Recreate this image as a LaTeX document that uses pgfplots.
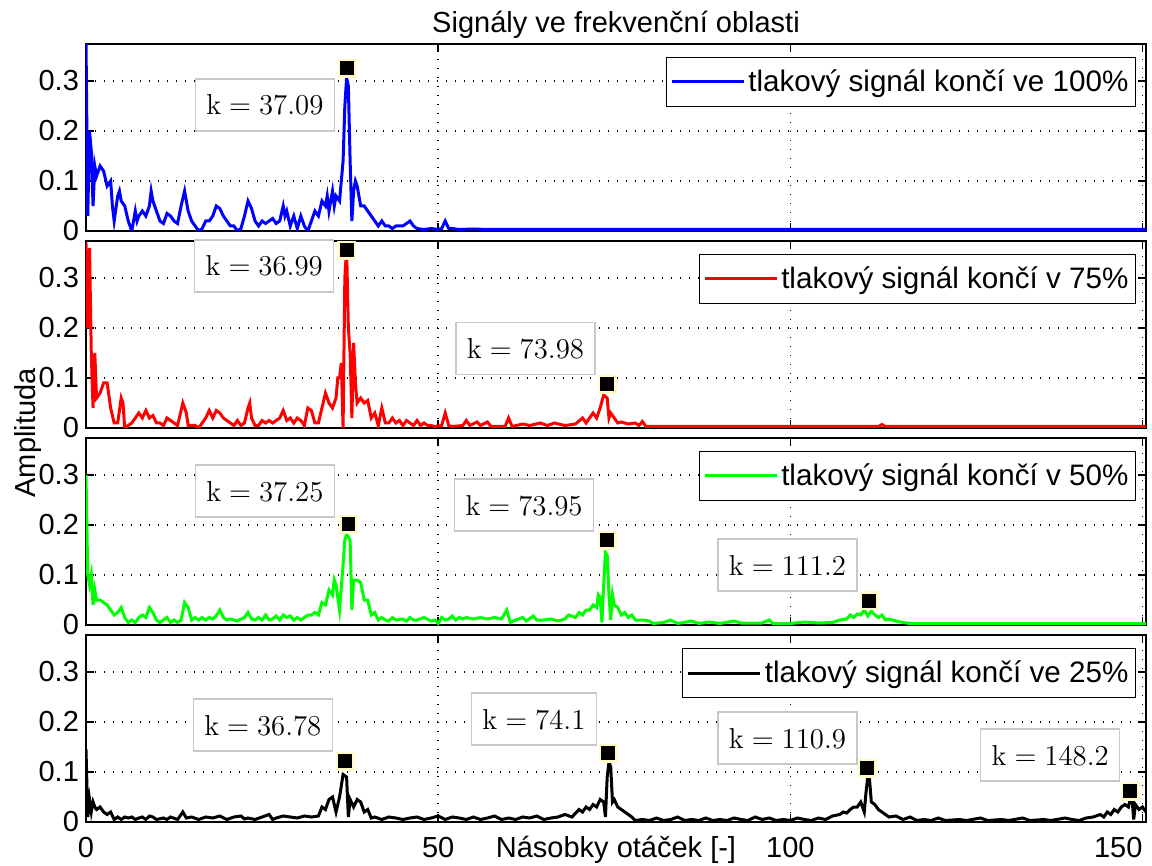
\documentclass[border=0pt]{standalone}
\usepackage[no-math]{fontspec}
\setmainfont{Liberation Sans}
\usepackage{pgfplots}
\pgfplotsset{compat=1.18}

\definecolor{tipyellow}{RGB}{255,250,200}
\definecolor{boxgray}{RGB}{200,200,200}
\newcommand{\fs}{\fontsize{14.5}{16.5}\selectfont}
\newcommand{\fl}{\fontsize{14.8}{17}\selectfont}
\newcommand{\fk}{\fontsize{14}{16}\selectfont}

\pgfplotsset{
  panel/.style={
    width=530pt, height=93.5pt, scale only axis,
    anchor=north west,
    xmin=0, xmax=150.5, ymin=0, ymax=0.374,
    xtick={0,50,100,150}, xticklabels={},
    ytick={0,0.1,0.2,0.3}, yticklabels={0,0.1,0.2,0.3},
    tick pos=both, tick align=inside, major tick length=4pt,
    xmajorgrids, ymajorgrids,
    grid style={black, line width=0.7pt, dash pattern=on 0.7pt off 3.8pt},
    axis line style={line width=0.9pt},
    every tick/.style={black, line width=0.7pt},
    tick label style={font=\fs},
    clip mode=individual,
    legend style={at={(1,1)}, anchor=north east, xshift=-5pt, yshift=-6.5pt,
      draw=black, line width=0.6pt, fill=white, font=\fl,
      inner xsep=2pt, inner ysep=4pt, nodes={inner xsep=1.5pt}},
    legend cell align=left,
    legend image code/.code={\draw[#1] (3pt,0pt) -- (39pt,0pt);},
  },
  sig/.style={line width=1.5pt},
  tipbg/.style={only marks, forget plot, mark=square*, mark size=4.5pt,
    mark options={fill=tipyellow, draw=tipyellow, line width=0.1pt}},
  tip/.style={only marks, forget plot, mark=square*, mark size=3.2pt,
    mark options={fill=black, draw=black}},
}
\tikzset{
  kbox/.style={draw=boxgray, fill=white, line width=0.6pt, font=\fk,
    inner xsep=5.5pt, minimum height=26pt},
}

\begin{document}
\begin{tikzpicture}

% 100 %
\begin{axis}[panel, at={(0pt,0pt)}]
\addplot[sig, blue] coordinates {
(0,0.38)(0.25,0.03)(0.5,0.20)(0.75,0.16)(1.0,0.05)(1.25,0.13)(1.5,0.11)(2.0,0.13)
(2.5,0.12)(3.0,0.09)(3.5,0.10)(3.75,0.05)(4.0,0.02)(4.5,0.07)(4.75,0.08)(5.0,0.06)
(5.5,0.05)(6.0,0.02)(6.5,0.0)(7.0,0.04)(7.25,0.02)(7.5,0.03)(8.0,0.04)(8.5,0.03)
(9.0,0.05)(9.25,0.08)(9.5,0.06)(10.0,0.04)(10.5,0.02)(11.0,0.015)(11.5,0.035)(12.0,0.03)
(12.5,0.02)(13.0,0.015)(13.5,0.05)(14.0,0.08)(14.5,0.04)(15.0,0.02)(15.5,0.01)(16.0,0.0)
(16.5,0.005)(17.0,0.02)(17.5,0.02)(18.0,0.03)(18.5,0.05)(19.0,0.045)(19.5,0.03)(20.0,0.02)
(20.5,0.01)(21.0,0.01)(21.5,0.0)(22.0,0.005)(22.5,0.03)(23.0,0.06)(23.5,0.045)(24.0,0.02)
(24.5,0.01)(25.0,0.02)(25.5,0.015)(26.0,0.02)(26.5,0.025)(27.0,0.015)(27.5,0.02)(28.0,0.05)
(28.25,0.03)(28.5,0.04)(29.0,0.01)(29.5,0.03)(30.0,0.005)(30.5,0.03)(31.0,0.01)(31.5,0.0)
(32.0,0.02)(32.5,0.04)(33.0,0.03)(33.5,0.06)(34.0,0.05)(34.25,0.07)(34.5,0.04)(35.0,0.08)
(35.25,0.05)(35.5,0.07)(36.0,0.06)(36.25,0.10)(36.5,0.14)(36.75,0.25)(37.0,0.306)(37.25,0.29)
(37.5,0.14)(37.75,0.02)(38.0,0.08)(38.25,0.10)(38.5,0.09)(39.0,0.05)(39.5,0.05)(40.0,0.04)
(40.5,0.03)(41.0,0.02)(41.5,0.01)(42.0,0.02)(42.5,0.01)(43.0,0.01)(43.5,0.005)(44.0,0.01)
(45.0,0.01)(46.0,0.02)(46.5,0.01)(47.0,0.005)(48.0,0.003)(49.0,0.005)(50.0,0.003)(50.5,0.005)
(51.0,0.02)(51.5,0.005)(52.0,0.005)(53,0.003)(55,0.004)(57,0.003)(60,0.003)(150.5,0.003)
};
\addlegendentry{tlakový signál končí ve 100\%}
\addplot[tipbg] coordinates {(37.09,0.326)};
\addplot[tip] coordinates {(37.09,0.326)};
\node[kbox] at (axis cs:25.4,0.252) {$\mathrm{k}=37.09$};
\end{axis}

% 75 %
\begin{axis}[panel, at={(0pt,-98.5pt)}]
\addplot[sig, red] coordinates {
(0,0.37)(0.25,0.2)(0.5,0.36)(0.75,0.15)(1.0,0.04)(1.25,0.15)(1.5,0.06)(2.0,0.07)
(2.5,0.09)(3.0,0.09)(3.5,0.04)(4.0,0.01)(4.5,0.01)(5.0,0.06)(5.25,0.05)(5.5,0.0)
(6.0,0.005)(6.5,0.01)(7.0,0.02)(7.5,0.03)(8.0,0.02)(8.5,0.035)(9.0,0.02)(9.5,0.025)
(10.0,0.01)(10.5,0.01)(11.0,0.005)(11.5,0.02)(12.0,0.015)(12.5,0.01)(13.0,0.005)(13.75,0.05)
(14.25,0.03)(14.5,0.005)(15.0,0.005)(15.5,0.005)(16.0,0.0)(16.5,0.01)(17.0,0.02)(17.5,0.035)
(18.0,0.02)(18.5,0.035)(19.0,0.03)(19.5,0.02)(20.0,0.015)(20.5,0.01)(21.0,0.005)(21.5,0.015)
(22.0,0.005)(22.5,0.01)(23.0,0.04)(23.25,0.05)(23.5,0.02)(24.0,0.005)(24.5,0.005)(25.0,0.015)
(25.5,0.01)(26.0,0.015)(26.5,0.01)(27.0,0.015)(27.5,0.02)(28.0,0.035)(28.5,0.015)(29.0,0.02)
(29.5,0.01)(30.0,0.02)(30.5,0.015)(31.0,0.005)(31.5,0.04)(32.0,0.035)(32.5,0.01)(33.0,0.01)
(33.5,0.04)(34.0,0.07)(34.5,0.05)(35.0,0.04)(35.5,0.06)(35.75,0.10)(36.0,0.10)(36.25,0.13)
(36.5,0.0)(36.75,0.30)(37.0,0.36)(37.25,0.20)(37.5,0.15)(37.75,0.02)(38.0,0.17)(38.25,0.09)
(38.5,0.05)(39.0,0.06)(39.5,0.05)(40.0,0.055)(40.5,0.02)(41.0,0.03)(41.5,0.005)(42.0,0.04)
(42.5,0.01)(43.0,0.01)(43.5,0.02)(44.0,0.01)(44.5,0.015)(45.0,0.005)(45.5,0.015)(46.0,0.01)
(46.5,0.005)(47.0,0.015)(47.5,0.005)(48.0,0.01)(48.5,0.005)(49.0,0.005)(49.5,0.003)(50.5,0.005)
(51.0,0.03)(51.5,0.005)(52.0,0.003)(53.5,0.005)(54.0,0.015)(54.5,0.005)(55.5,0.012)(56.0,0.005)
(57.0,0.012)(57.5,0.003)(59.5,0.003)(60.0,0.02)(60.5,0.003)(62.0,0.008)(63.0,0.005)(64.5,0.01)
(65.5,0.005)(66.5,0.01)(68.0,0.005)(69.5,0.008)(70.5,0.02)(71.0,0.01)(71.5,0.02)(72.0,0.03)
(72.5,0.02)(73.0,0.04)(73.5,0.066)(74.0,0.06)(74.25,0.02)(74.5,0.03)(75.0,0.02)(75.5,0.01)
(76.0,0.012)(77.0,0.008)(78.0,0.01)(78.5,0.005)(79.0,0.013)(79.5,0.003)(112.5,0.003)(113,0.007)
(113.5,0.003)(150.5,0.003)
};
\addlegendentry{tlakový signál končí v 75\%}
\addplot[tipbg] coordinates {(36.99,0.356)(73.98,0.088)};
\addplot[tip] coordinates {(36.99,0.356)(73.98,0.088)};
\node[kbox] at (axis cs:25.3,0.324) {$\mathrm{k}=36.99$};
\node[kbox] at (axis cs:62.4,0.159) {$\mathrm{k}=73.98$};
\end{axis}

% 50 %
\begin{axis}[panel, at={(0pt,-197pt)}]
\addplot[sig, green] coordinates {
(0,0.30)(0.25,0.10)(0.5,0.08)(0.75,0.10)(1.0,0.04)(1.25,0.07)(1.5,0.05)(2.0,0.05)
(2.5,0.045)(3.0,0.04)(3.5,0.03)(4.0,0.02)(4.5,0.025)(5.0,0.035)(5.5,0.015)(6.0,0.005)
(6.5,0.01)(7.0,0.005)(7.5,0.015)(8.0,0.02)(8.5,0.015)(9.0,0.035)(9.5,0.025)(10.0,0.01)
(10.5,0.005)(11.0,0.01)(11.5,0.015)(12.0,0.005)(12.5,0.01)(13.0,0.005)(13.5,0.01)(14.0,0.045)
(14.5,0.035)(15.0,0.01)(15.5,0.015)(16.0,0.01)(16.5,0.015)(17.0,0.01)(17.5,0.015)(18.0,0.012)
(18.5,0.018)(19.0,0.03)(19.5,0.015)(20.0,0.01)(20.5,0.012)(21.0,0.01)(21.5,0.008)(22.0,0.012)
(22.5,0.015)(23.0,0.025)(23.5,0.012)(24.0,0.01)(24.5,0.015)(25.0,0.01)(25.5,0.02)(26.0,0.01)
(26.5,0.012)(27.0,0.018)(27.5,0.01)(28.0,0.02)(28.5,0.015)(29.0,0.018)(29.5,0.01)(30.0,0.015)
(30.5,0.01)(31.0,0.015)(31.5,0.02)(32.0,0.02)(32.5,0.025)(33.0,0.02)(33.5,0.045)(34.0,0.04)
(34.5,0.07)(35.0,0.06)(35.25,0.09)(35.5,0.08)(36.0,0.03)(36.5,0.12)(36.75,0.17)(37.0,0.182)
(37.5,0.17)(37.75,0.03)(38.0,0.09)(38.5,0.09)(39.0,0.085)(39.5,0.05)(40.0,0.05)(40.5,0.02)
(41.0,0.025)(41.5,0.01)(42.0,0.015)(42.5,0.01)(43.0,0.008)(43.5,0.015)(44.0,0.01)(45.0,0.012)
(45.5,0.008)(46.0,0.015)(46.5,0.01)(47.0,0.01)(48.0,0.015)(49.0,0.008)(49.5,0.01)(50.0,0.003)
(50.5,0.015)(51.0,0.01)(51.5,0.012)(52.0,0.018)(52.5,0.01)(53.0,0.015)(53.5,0.012)(54.0,0.015)
(55.0,0.012)(56.0,0.015)(57.0,0.012)(58.0,0.015)(59.0,0.012)(59.75,0.03)(60.25,0.005)(61.0,0.01)
(62.0,0.015)(62.5,0.008)(63.5,0.018)(64.0,0.01)(65.0,0.01)(66.0,0.012)(67.0,0.008)(68.0,0.012)
(68.5,0.02)(69.5,0.015)(70.0,0.025)(70.5,0.02)(71.0,0.03)(71.5,0.03)(72.0,0.04)(72.5,0.035)
(72.75,0.06)(73.0,0.055)(73.25,0.005)(73.5,0.08)(73.75,0.145)(74.0,0.14)(74.25,0.06)(74.5,0.01)
(74.75,0.06)(75.0,0.04)(75.5,0.035)(76.0,0.02)(76.5,0.025)(77.0,0.015)(77.5,0.02)(78.0,0.01)
(79.0,0.01)(80.0,0.008)(80.5,0.003)(82.0,0.005)(83.0,0.01)(84.0,0.003)(86.0,0.008)(87.0,0.003)
(88.5,0.006)(90.0,0.003)(92.0,0.008)(93.0,0.004)(96.0,0.004)(97.0,0.01)(97.5,0.003)(100.0,0.003)
(102.0,0.006)(104.0,0.004)(106.0,0.005)(107.0,0.01)(108.0,0.012)(108.5,0.02)(109.0,0.015)(109.5,0.022)
(110.0,0.02)(110.5,0.03)(111.0,0.018)(111.5,0.028)(112.0,0.02)(112.5,0.015)(113.0,0.02)(113.5,0.01)
(114.0,0.012)(115.0,0.008)(116.0,0.005)(117.0,0.003)(150.5,0.003)
};
\addlegendentry{tlakový signál končí v 50\%}
\addplot[tipbg] coordinates {(37.25,0.202)(73.95,0.17)(111.2,0.049)};
\addplot[tip] coordinates {(37.25,0.202)(73.95,0.17)(111.2,0.049)};
\node[kbox] at (axis cs:25.4,0.268) {$\mathrm{k}=37.25$};
\node[kbox] at (axis cs:62.2,0.240) {$\mathrm{k}=73.95$};
\node[kbox] at (axis cs:99.6,0.120) {$\mathrm{k}=111.2$};
\end{axis}

% 25 %
\begin{axis}[panel, at={(0pt,-295.5pt)},
  xticklabels={0,50,100,\makebox[0pt][r]{150}},
  xticklabel style={anchor=base, yshift=-17.5pt},
  xlabel={Násobky otáček [-]},
  xlabel style={at={(axis description cs:0.5,0)}, anchor=base, yshift=-17.5pt, font=\fs}]
\addplot[sig, black] coordinates {
(0,0.145)(0.25,0.01)(0.5,0.045)(0.75,0.02)(1.0,0.04)(1.25,0.03)(1.5,0.025)(2.0,0.03)
(2.5,0.02)(3.0,0.015)(3.5,0.02)(4.0,0.005)(4.5,0.01)(5.0,0.005)(5.5,0.01)(6.0,0.008)
(6.5,0.01)(7.0,0.005)(7.5,0.008)(8.0,0.01)(8.5,0.005)(9.0,0.012)(9.5,0.01)(10.0,0.005)
(11.0,0.008)(11.5,0.005)(12.0,0.01)(13.0,0.005)(13.75,0.02)(14.25,0.008)(15.0,0.01)(16.0,0.005)
(17.0,0.01)(18.0,0.008)(19.0,0.012)(20.0,0.005)(21.0,0.01)(22.0,0.012)(22.5,0.006)(23.0,0.008)
(24.0,0.005)(25.0,0.01)(26.0,0.015)(26.5,0.005)(27.0,0.008)(28.0,0.012)(29.0,0.01)(30.0,0.008)
(31.0,0.012)(32.0,0.01)(33.0,0.012)(33.5,0.03)(34.0,0.025)(34.5,0.045)(35.0,0.05)(35.5,0.02)
(36.0,0.05)(36.5,0.095)(37.0,0.09)(37.25,0.01)(37.5,0.045)(38.0,0.03)(38.5,0.045)(39.0,0.04)
(39.5,0.02)(40.0,0.025)(40.5,0.008)(41.0,0.01)(42.0,0.005)(43.0,0.01)(44.0,0.008)(45.0,0.005)
(46.0,0.008)(47.0,0.01)(48.0,0.005)(49.0,0.008)(50.0,0.012)(51.0,0.005)(52.0,0.01)(53.0,0.008)
(54.0,0.005)(55.0,0.01)(56.0,0.005)(57.0,0.008)(58.0,0.012)(59.0,0.005)(60.0,0.008)(61.0,0.005)
(62.0,0.01)(63.0,0.008)(64.0,0.012)(65.0,0.005)(66.0,0.008)(67.0,0.01)(68.0,0.015)(69.0,0.01)
(70.0,0.025)(70.5,0.02)(71.0,0.03)(71.5,0.025)(72.0,0.035)(72.5,0.03)(73.0,0.045)(73.5,0.04)
(73.75,0.01)(74.0,0.09)(74.25,0.12)(74.5,0.11)(74.75,0.04)(75.0,0.045)(75.5,0.03)(76.0,0.025)
(76.5,0.02)(77.0,0.015)(77.5,0.01)(78.0,0.003)(79.0,0.005)(80.0,0.003)(81.0,0.008)(82.0,0.003)
(83.0,0.005)(84.0,0.01)(85.0,0.003)(86.0,0.005)(87.0,0.003)(88.0,0.008)(89.0,0.003)(90.0,0.005)
(91.0,0.003)(92.0,0.008)(93.0,0.005)(94.0,0.003)(95.0,0.01)(96.0,0.005)(97.0,0.008)(98.0,0.003)
(99.0,0.005)(100.0,0.003)(101.0,0.008)(102.0,0.005)(103.0,0.003)(104.0,0.008)(105.0,0.005)(106.0,0.012)
(107.0,0.015)(107.5,0.02)(108.0,0.018)(108.5,0.025)(109.0,0.03)(109.5,0.03)(110.0,0.04)(110.5,0.02)
(110.75,0.06)(111.0,0.09)(111.25,0.085)(111.5,0.04)(112.0,0.035)(112.5,0.025)(113.0,0.02)(113.5,0.015)
(114.0,0.01)(115.0,0.012)(116.0,0.005)(117.0,0.01)(118.0,0.003)(119.0,0.005)(120.0,0.003)(121.0,0.008)
(122.0,0.003)(124.0,0.005)(125.0,0.003)(127.0,0.008)(128.0,0.003)(130.0,0.005)(131.0,0.003)(133.0,0.008)
(134.0,0.003)(136.0,0.005)(137.0,0.003)(139.0,0.008)(140.0,0.005)(141.0,0.003)(142.0,0.008)(143.0,0.01)
(144.0,0.015)(144.5,0.01)(145.0,0.02)(145.5,0.015)(146.0,0.025)(146.5,0.02)(147.0,0.03)(147.5,0.035)
(148.0,0.03)(148.25,0.045)(148.5,0.05)(148.75,0.005)(149.0,0.035)(149.5,0.025)(150.0,0.03)(150.5,0.02)
};
\addlegendentry{tlakový signál končí ve 25\%}
\addplot[tipbg] coordinates {(36.78,0.122)(74.1,0.138)(110.9,0.108)(148.2,0.062)};
\addplot[tip] coordinates {(36.78,0.122)(74.1,0.138)(110.9,0.108)(148.2,0.062)};
\node[kbox] at (axis cs:25.1,0.194) {$\mathrm{k}=36.78$};
\node[kbox] at (axis cs:63.6,0.206) {$\mathrm{k}=74.1$};
\node[kbox] at (axis cs:99.6,0.168) {$\mathrm{k}=110.9$};
\node[kbox] at (axis cs:136.9,0.134) {$\mathrm{k}=148.2$};
\end{axis}

\node[font=\fs, anchor=base] at (265pt,5.5pt) {Signály ve frekvenční oblasti};
\node[font=\fs, rotate=90] at (-29pt,-194.5pt) {Amplituda};

\pgfresetboundingbox
\path[use as bounding box] (-43pt,22pt) rectangle (533pt,-411pt);
\end{tikzpicture}
\end{document}
